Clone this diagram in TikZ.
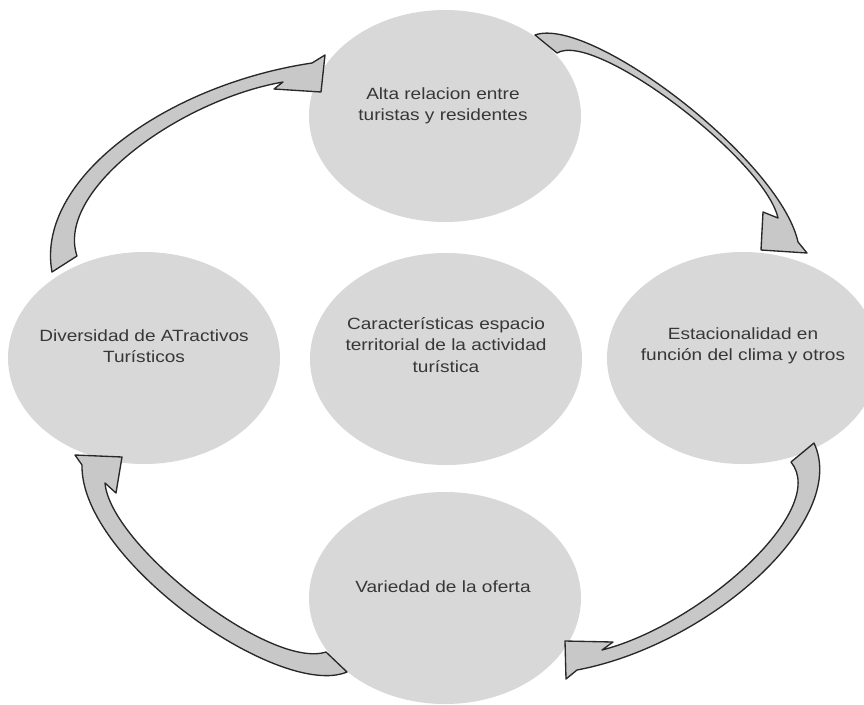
\documentclass[tikz,border=0pt]{standalone}
\usepackage{fontspec}
\newfontfamily\lbl[FakeStretch=1.17]{Liberation Sans}
\usetikzlibrary{shapes.geometric,calc}
\definecolor{ellfill}{RGB}{216,216,216}
\definecolor{arrfill}{RGB}{200,200,200}
\definecolor{arrline}{RGB}{40,40,40}
\definecolor{txtcol}{RGB}{55,55,55}
\begin{document}
\begin{tikzpicture}[x=0.75pt,y=-0.75pt,
  bubble/.style={ellipse,fill=ellfill,draw=none,minimum width=204pt,minimum height=159pt,inner sep=0pt},
  txt/.style={font=\lbl\fontsize{12.2pt}{16pt}\selectfont,text=txtcol,align=center,inner sep=0pt},
  blockarrow/.style={fill=arrfill,draw=arrline,line width=1pt,line join=round}]
\useasboundingbox (0,0) rectangle (864,704);
\fill[white] (0,0) rectangle (864,704);
% ellipses
\node[bubble] (top) at (445,116) {};
\node[bubble] (left) at (144,358) {};
\node[bubble] (mid) at (446,359) {};
\node[bubble] (right) at (743,358) {};
\node[bubble] (bot) at (445,598) {};
% texts
\node[txt] (topt) at ($(top)+(-2,-10)$) {Alta relacion entre\\turistas y residentes};
\node[txt] (leftt) at ($(left)+(0,-12)$) {Diversidad de ATractivos\\Turísticos};
\node[txt] (midt) at ($(mid)+(0,-14)$) {Características espacio\\territorial de la actividad\\turística};
\node[txt] (rightt) at ($(right)+(0,-12)$) {Estacionalidad en\\función del clima y otros};
\node[txt] (bott) at ($(bot)+(-2,-11)$) {Variedad de la oferta};
% curved block arrows
\draw[blockarrow] (52,272) .. controls (35,180) and (165,85) .. (312,63) -- (325,55) -- (321,92) -- (274,89) -- (283,82)
  .. controls (180,100) and (55,190) .. (77,256) -- cycle;
\draw[blockarrow] (535,35) .. controls (590,15) and (780,160) .. (798,242) -- (807,253) -- (761,250) -- (763,212) -- (778,218)
  .. controls (765,160) and (595,30) .. (557,53) -- cycle;
\draw[blockarrow] (814,443) .. controls (850,520) and (710,645) .. (577,670) -- (566,679) -- (565,641) -- (613,642) -- (602,650)
  .. controls (700,625) and (830,510) .. (791,462) -- cycle;
\draw[blockarrow] (347,672) .. controls (280,700) and (80,560) .. (82,465) -- (75,455) -- (122,457) -- (116,493) -- (105,483)
  .. controls (110,545) and (270,670) .. (326,652) -- cycle;
\end{tikzpicture}
\end{document}
